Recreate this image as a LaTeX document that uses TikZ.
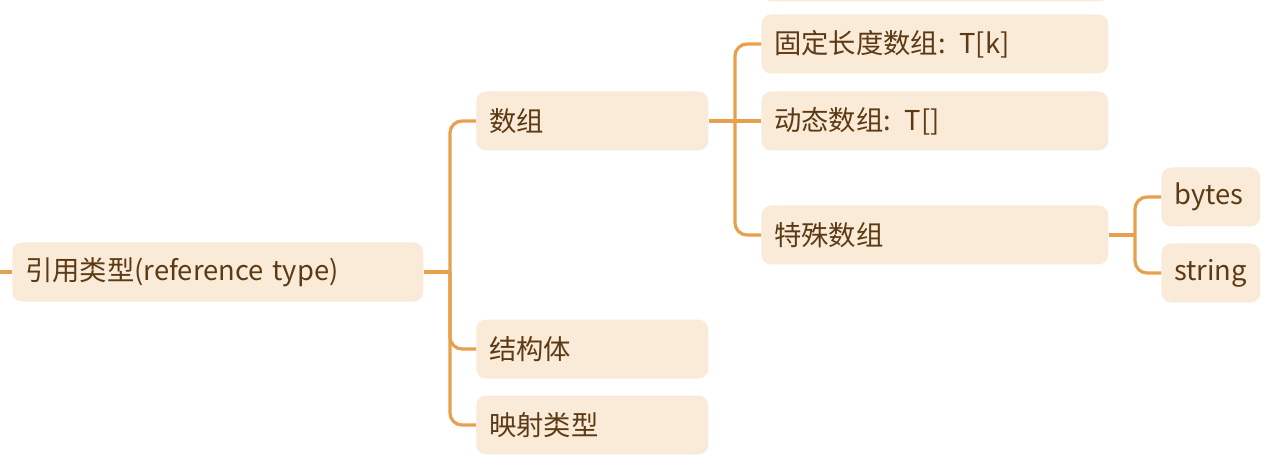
\documentclass[tikz,border=0pt]{standalone}
\usepackage{fontspec}
\setmainfont{Noto Sans CJK SC}
\definecolor{boxfill}{RGB}{250,234,216}
\definecolor{linecol}{RGB}{232,160,78}
\definecolor{txtcol}{RGB}{92,58,20}
\begin{document}
\begin{tikzpicture}[x=0.75pt,y=-0.75pt,
  box/.style={rectangle, rounded corners=7.5pt, fill=boxfill, draw=none,
    minimum height=44.25pt, inner xsep=9.75pt, inner ysep=0pt,
    text width=#1, align=left, anchor=west, text=txtcol,
    font=\fontsize{20.5}{24}\selectfont},
  conn/.style={draw=linecol, line width=2.4pt},
  elbow/.style={conn, rounded corners=9pt}]
\useasboundingbox (0,0) rectangle (1286,474);
\clip (0,0) rectangle (1286,474);
\fill[white] (0,0) rectangle (1286,474);

% nodes
\node[box=288.75pt] (root) at (12,272) {引用类型(reference type)};
\node[box=154.5pt] (arr) at (476,121) {数组};
\node[box=154.5pt] (struct) at (476,349) {结构体};
\node[box=154.5pt] (map) at (476,425) {映射类型};
\node[box=240.75pt] (top) at (762,-28) {};
\node[box=240.75pt] (fixed) at (761,44) {固定长度数组: T[k]};
\node[box=240.75pt] (dyn) at (761,121) {动态数组: T[]};
\node[box=240.75pt] (special) at (761,235) {特殊数组};
\node[box=54.75pt] (bytes) at (1161,197) {bytes};
\node[box=54.75pt] (string) at (1161,273) {string};

% junctions
\coordinate (rootin) at (-10,272);
\coordinate (j1) at (450,272);
\coordinate (j2) at (735,121);
\coordinate (j3) at (1135,235);

% connectors
\draw[conn] (rootin) -- (root.west);
\draw[conn] (root.east) -- (j1);
\draw[elbow] (j1) |- (arr.west);
\draw[elbow] (j1) |- (struct.west);
\draw[elbow] (j1) |- (map.west);
\draw[conn] (arr.east) -- (dyn.west);
\draw[elbow] (j2) |- (fixed.west);
\draw[elbow] (j2) |- (special.west);
\draw[conn] (special.east) -- (j3);
\draw[elbow] (j3) |- (bytes.west);
\draw[elbow] (j3) |- (string.west);
\end{tikzpicture}
\end{document}
